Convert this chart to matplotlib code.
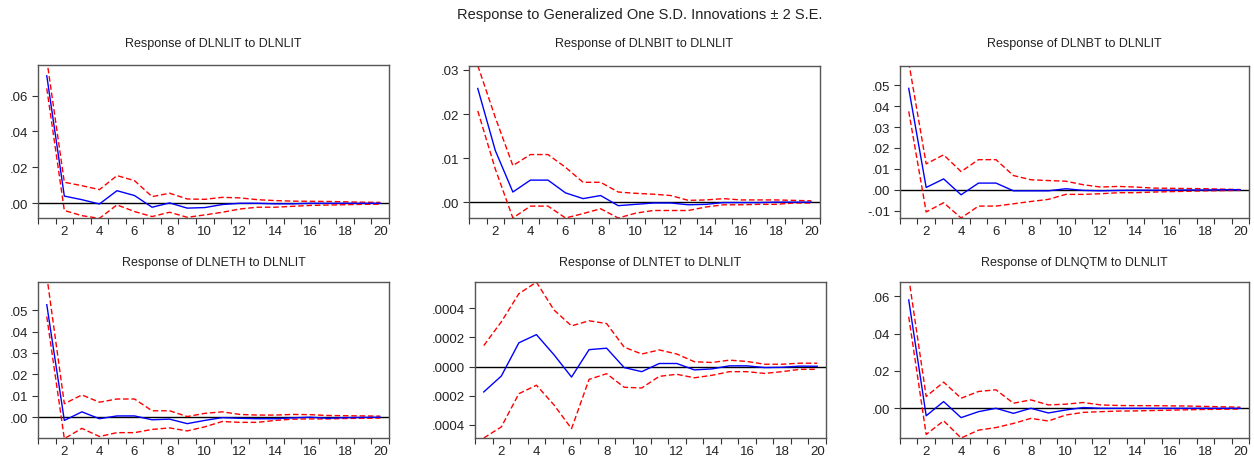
import matplotlib
matplotlib.use("Agg")
import matplotlib.pyplot as plt
import numpy as np

plt.rcParams['font.family'] = ['Liberation Sans', 'DejaVu Sans']

periods = list(range(1, 21))

main_title = "Response to Generalized One S.D. Innovations \u00b1 2 S.E."

titles = [
    "Response of DLNLIT to DLNLIT",
    "Response of DLNBIT to DLNLIT",
    "Response of DLNBT to DLNLIT",
    "Response of DLNETH to DLNLIT",
    "Response of DLNTET to DLNLIT",
    "Response of DLNQTM to DLNLIT",
]

# Panel 1: DLNLIT
lit_resp = [0.071, 0.004, 0.002, -0.0004, 0.007, 0.0043, -0.0022, 0.0002, -0.0027, -0.0024,
            -0.0007, 0.0, 0.0, -0.0003, -0.0003, 0.0, 0.0, 0.0, 0.0, 0.0]
lit_up = [0.080, 0.0117, 0.0098, 0.0076, 0.0154, 0.0126, 0.0037, 0.0056, 0.0024, 0.0022,
          0.0033, 0.003, 0.002, 0.0015, 0.0012, 0.0011, 0.001, 0.0008, 0.0006, 0.0005]
lit_lo = [0.064, -0.004, -0.0069, -0.0084, -0.0009, -0.0046, -0.0074, -0.005, -0.0078, -0.0065,
          -0.005, -0.0032, -0.0022, -0.0022, -0.0017, -0.0012, -0.001, -0.0008, -0.0006, -0.0005]

# Panel 2: DLNBIT
bit_resp = [0.0258, 0.0117, 0.0023, 0.005, 0.005, 0.0021, 0.0008, 0.0015, -0.0008, -0.0005,
            -0.0002, -0.0002, -0.0006, -0.0005, -0.0001, -0.0001, -0.0001, 0.0, 0.0, 0.0]
bit_up = [0.031, 0.0192, 0.0083, 0.0108, 0.0108, 0.0079, 0.0045, 0.0045, 0.0023, 0.002,
          0.0018, 0.0015, 0.0004, 0.0005, 0.0008, 0.0005, 0.0005, 0.0005, 0.0004, 0.0003]
bit_lo = [0.0207, 0.0075, -0.0036, -0.0009, -0.0009, -0.0036, -0.0026, -0.0015, -0.0036, -0.0025,
          -0.0019, -0.0019, -0.0019, -0.0011, -0.0006, -0.0006, -0.0005, -0.0005, -0.0002, -0.0002]

# Panel 3: DLNBT
bt_resp = [0.0485, 0.0011, 0.0052, -0.0024, 0.0032, 0.0032, -0.0005, -0.0005, -0.0005, 0.0005,
           -0.0003, -0.0005, -0.0003, -0.0002, -0.0002, -0.0002, -0.0001, -0.0001, 0.0, 0.0]
bt_up = [0.061, 0.0124, 0.0167, 0.0087, 0.0144, 0.0144, 0.0068, 0.0048, 0.0044, 0.0041,
         0.0024, 0.0013, 0.0016, 0.0013, 0.0008, 0.0007, 0.0006, 0.0005, 0.0003, 0.0001]
bt_lo = [0.0375, -0.0106, -0.0062, -0.0135, -0.0078, -0.0078, -0.0067, -0.0056, -0.0046, -0.0022,
         -0.0022, -0.0019, -0.0014, -0.0014, -0.0011, -0.0009, -0.0007, -0.0005, -0.0004, -0.0003]

# Panel 4: DLNETH
eth_resp = [0.0525, -0.0015, 0.0025, -0.0007, 0.0006, 0.0006, -0.0012, -0.0009, -0.003, -0.0015,
            -0.0002, -0.0005, -0.0007, -0.0007, -0.0003, 0.0, -0.0005, -0.0002, -0.0001, 0.0]
eth_up = [0.066, 0.0063, 0.0104, 0.007, 0.0085, 0.0085, 0.003, 0.003, 0.0003, 0.0018,
          0.0025, 0.0013, 0.001, 0.001, 0.0013, 0.0012, 0.0008, 0.0007, 0.0006, 0.0005]
eth_lo = [0.047, -0.0100, -0.0052, -0.009, -0.0072, -0.0072, -0.0057, -0.005, -0.0064, -0.0045,
          -0.002, -0.0024, -0.0024, -0.0015, -0.0009, -0.0008, -0.0008, -0.0006, -0.0005, -0.0004]

# Panel 5: DLNTET
tet_resp = [-0.000174, -0.000065, 0.000163, 0.000219, 0.000081, -0.000072, 0.000116, 0.000126,
            -0.000007, -0.000035, 0.000021, 0.000021, -0.000023, -0.000016, 0.000005, 0.000005,
            -0.000007, -0.000005, 0.000003, 0.000002]
tet_up = [0.000144, 0.000307, 0.0005, 0.000579, 0.000388, 0.000279, 0.000314, 0.000295,
          0.000133, 0.000086, 0.000114, 0.000086, 0.000033, 0.000028, 0.000044, 0.000035,
          0.000016, 0.000016, 0.000023, 0.000023]
tet_lo = [-0.00049, -0.000414, -0.000186, -0.000128, -0.000263, -0.000426, -0.000088, -0.000049,
          -0.000142, -0.000147, -0.000067, -0.000053, -0.000077, -0.00006, -0.000035, -0.000035,
          -0.000047, -0.000035, -0.000019, -0.000019]

# Panel 6: DLNQTM
qtm_resp = [0.058, -0.004, 0.0036, -0.005, -0.0018, 0.0, -0.0027, 0.0, -0.0025, -0.0009,
            0.0004, 0.0, 0.0, 0.0, 0.0, 0.0, 0.0, 0.0, 0.0, 0.0]
qtm_up = [0.070, 0.0063, 0.014, 0.0054, 0.009, 0.0099, 0.0027, 0.0045, 0.0018, 0.0022,
          0.0031, 0.0018, 0.0015, 0.0014, 0.0014, 0.0013, 0.0012, 0.001, 0.0008, 0.0006]
qtm_lo = [0.049, -0.014, -0.0067, -0.0159, -0.0117, -0.0103, -0.0081, -0.0054, -0.0068, -0.0036,
          -0.0022, -0.0018, -0.0015, -0.0014, -0.0012, -0.001, -0.0008, -0.0006, -0.0005, -0.0004]

responses = [lit_resp, bit_resp, bt_resp, eth_resp, tet_resp, qtm_resp]
uppers = [lit_up, bit_up, bt_up, eth_up, tet_up, qtm_up]
lowers = [lit_lo, bit_lo, bt_lo, eth_lo, tet_lo, qtm_lo]

ylims = [(-0.0082, 0.077), (-0.0036, 0.0309), (-0.0135, 0.0592),
         (-0.0097, 0.0631), (-0.00049, 0.00058), (-0.0159, 0.0676)]

ytick_vals = [
    [0.0, 0.02, 0.04, 0.06],
    [0.0, 0.01, 0.02, 0.03],
    [-0.01, 0.0, 0.01, 0.02, 0.03, 0.04, 0.05],
    [0.0, 0.01, 0.02, 0.03, 0.04, 0.05],
    [-0.0004, -0.0002, 0.0, 0.0002, 0.0004],
    [0.0, 0.02, 0.04, 0.06],
]
ytick_labels = [
    [".00", ".02", ".04", ".06"],
    [".00", ".01", ".02", ".03"],
    ["-.01", ".00", ".01", ".02", ".03", ".04", ".05"],
    [".00", ".01", ".02", ".03", ".04", ".05"],
    [".0004", ".0002", ".0000", ".0002", ".0004"],
    [".00", ".02", ".04", ".06"],
]
xtick_labels = [str(v) for v in range(2, 21, 2)]

W, H = 1254, 460
fig = plt.figure(figsize=(W / 100, H / 100), dpi=100)

# pixel boxes: left, top, right, bottom
boxes = [(38, 66, 389, 219), (469, 67, 820, 219), (900, 67, 1249, 219),
         (38, 283, 389, 439), (475, 283, 826, 439), (900, 283, 1249, 439)]

text_col = '#222222'
fig.text(640 / W, 1 - 15 / H, main_title, ha='center', va='center',
         fontsize=10.5, color=text_col)

for i in range(6):
    l, t, r, b = boxes[i]
    ax = fig.add_axes([l / W, 1 - b / H, (r - l) / W, (b - t) / H])
    ax.plot(periods, uppers[i], color='#ff0000', lw=1.0, ls=(0, (4, 2)))
    ax.plot(periods, lowers[i], color='#ff0000', lw=1.0, ls=(0, (4, 2)))
    ax.plot(periods, responses[i], color='#0000ff', lw=1.0)
    ax.axhline(0, color='black', lw=1.0, zorder=1)
    ax.set_xlim(0.5, 20.5)
    ax.set_ylim(*ylims[i])
    ax.set_xticks(np.arange(0.5, 21, 1.0))
    ax.set_xticklabels([])
    ax.set_xticks(list(range(2, 21, 2)), minor=True)
    ax.set_xticklabels(xtick_labels, minor=True)
    ax.tick_params(axis='x', which='major', direction='out', length=4, width=0.8,
                   color='#333333')
    ax.tick_params(axis='x', which='minor', length=0, pad=5, labelsize=9.5,
                   labelcolor=text_col)
    ax.set_yticks(ytick_vals[i])
    ax.set_yticklabels(ytick_labels[i])
    ax.tick_params(axis='y', direction='out', length=4, width=0.8, color='#333333',
                   labelsize=9.5, labelcolor=text_col, pad=3)
    for s in ax.spines.values():
        s.set_color('#555555')
        s.set_linewidth(1.0)
    cx = (l + r) / 2
    ty = 44 if i < 3 else 263
    fig.text(cx / W, 1 - ty / H, titles[i], ha='center', va='center',
             fontsize=9, color=text_col)

fig.savefig('out.png', dpi=100)
